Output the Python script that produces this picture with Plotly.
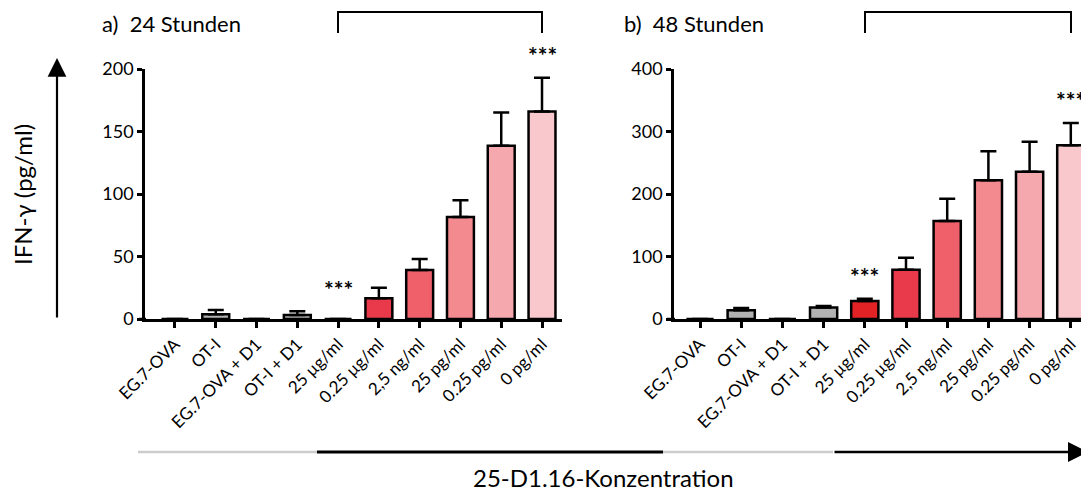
import plotly.graph_objects as go

W, H = 1089, 495
OFF = 8  # page body margin offset of the plot div

categories = ["EG.7-OVA", "OT-I", "EG.7-OVA + D1", "OT-I + D1", "25 µg/ml",
              "0.25 µg/ml", "2,5 ng/ml", "25 pg/ml", "0.25 pg/ml", "0 pg/ml"]
bar_colors = ["#b2b2b2", "#b2b2b2", "#b2b2b2", "#b2b2b2", "#e32226",
              "#e93a4b", "#ef606b", "#f38a8f", "#f5a8ae", "#f8c8cc"]

a_means = [0, 3.8, 0, 3.3, 0, 16.6, 39.3, 81.7, 138.6, 166]
a_err = [0, 3.4, 0, 3.0, 0, 8.4, 8.7, 13.3, 26.7, 27]
b_means = [0, 14.0, 0, 18.5, 29.0, 79.0, 157, 222, 235.5, 278]
b_err = [0, 3.8, 0, 2.2, 3.6, 19.0, 35.5, 46.5, 48, 35.5]

a_ticks = [0, 50, 100, 150, 200]
b_ticks = [0, 100, 200, 300, 400]
sig_idx = [4, 9]

FONT = "Lato"


def px(x):
    return (x - OFF) / W


def py(y):
    return 1 - (y - OFF) / H


fig = go.Figure()
for means, errs, xa, ya in [(a_means, a_err, "x", "y"), (b_means, b_err, "x2", "y2")]:
    fig.add_trace(go.Bar(
        x=categories, y=means, xaxis=xa, yaxis=ya, width=0.66,
        marker=dict(color=bar_colors, line=dict(color="black", width=2.5)),
        error_y=dict(type="data", array=errs, arrayminus=[0] * len(errs), symmetric=False,
                     color="black", thickness=2.5, width=8, visible=True),
        showlegend=False,
    ))

# right edge of panel b extends past window edge
b_right = 1097
b_left = 674
b_step = 41.2
b_first = 700
y_dom = [py(319), py(69)]
axis_common = dict(showline=True, linecolor="black", linewidth=2.5, ticks="outside",
                   tickcolor="black", tickwidth=2.5, showgrid=False, zeroline=False,
                   automargin=False,
                   tickfont=dict(family=FONT, size=18, color="black"))
xcommon = dict(axis_common, type="category", tickangle=-45, ticklen=6,
               tickfont=dict(family=FONT, size=17, color="black"))
fig.update_layout(
    width=W, height=H, margin=dict(l=0, r=0, t=0, b=0, autoexpand=False),
    plot_bgcolor="white", paper_bgcolor="white", bargap=0.34,
    xaxis=dict(xcommon, domain=[px(145), px(562.4)], range=[-0.735, 9.5], anchor="y"),
    yaxis=dict(axis_common, domain=y_dom, range=[0, 200], tickvals=a_ticks, ticklen=5, anchor="x"),
    xaxis2=dict(xcommon, domain=[px(b_left), px(b_right)],
                range=[-0.5 - (b_first - 20.6 - b_left) / b_step,
                       -0.5 + (b_right - b_first + 20.6) / b_step], anchor="y2"),
    yaxis2=dict(axis_common, domain=y_dom, range=[0, 400], tickvals=b_ticks, ticklen=5, anchor="x2"),
)

annotations = []
# significance stars
for means, errs, xa, ya in [(a_means, a_err, "x", "y"), (b_means, b_err, "x2", "y2")]:
    for i in sig_idx:
        top = means[i] + errs[i]
        shift = 30 if top == 0 else 23
        annotations.append(dict(x=categories[i], y=top, xref=xa, yref=ya, text="<b>***</b>",
                                showarrow=False, yanchor="middle", yshift=shift,
                                font=dict(family=FONT, size=23, color="black")))

# titles
annotations.append(dict(x=px(100), y=py(24), xref="paper", yref="paper", xanchor="left",
                        yanchor="middle", text="a)\u00a0\u00a024 Stunden", showarrow=False,
                        font=dict(family=FONT, size=22, color="black")))
annotations.append(dict(x=px(622), y=py(24), xref="paper", yref="paper", xanchor="left",
                        yanchor="middle", text="b)\u00a0\u00a048 Stunden", showarrow=False,
                        font=dict(family=FONT, size=22, color="black")))
# y-axis title
annotations.append(dict(x=px(22), y=py(195), xref="paper", yref="paper", text="IFN-γ (pg/ml)",
                        textangle=-90, showarrow=False, xanchor="center", yanchor="middle",
                        font=dict(family=FONT, size=24, color="black")))
# x title
annotations.append(dict(x=px(603), y=py(477), xref="paper", yref="paper",
                        text="25-D1.16-Konzentration", showarrow=False,
                        xanchor="center", yanchor="middle",
                        font=dict(family=FONT, size=24, color="black")))
# vertical arrow
annotations.append(dict(x=px(57), y=py(58), xref="paper", yref="paper", ax=0, ay=261,
                        axref="pixel", ayref="pixel", text="", showarrow=True,
                        arrowhead=2, arrowsize=1.7, arrowwidth=2.2, arrowcolor="black"))
# horizontal arrow (last segment)
annotations.append(dict(x=px(1088), y=py(452), xref="paper", yref="paper", ax=-255, ay=0,
                        axref="pixel", ayref="pixel", text="", showarrow=True,
                        arrowhead=2, arrowsize=1.6, arrowwidth=2.5, arrowcolor="black"))
fig.update_layout(annotations=annotations)

shapes = []
# bottom line segments
for x0, x1, col, lw in [(138, 317, "#cccccc", 2.5), (317, 663, "black", 3), (663, 833, "#cccccc", 2.5)]:
    shapes.append(dict(type="line", xref="paper", yref="paper", x0=px(x0), x1=px(x1),
                       y0=py(452), y1=py(452), line=dict(color=col, width=lw)))
# short x-axis extension left of y-axis (Prism style)
for x0, x1 in [(139, 146), (667, 675)]:
    shapes.append(dict(type="line", xref="paper", yref="paper", x0=px(x0), x1=px(x1),
                       y0=py(319), y1=py(319), line=dict(color="black", width=2.5)))
# brackets
for x0, x1 in [(338, 542), (865, 1071)]:
    shapes.append(dict(type="path", xref="paper", yref="paper",
                       path=f"M {px(x0)},{py(33)} L {px(x0)},{py(12)} L {px(x1)},{py(12)} L {px(x1)},{py(33)}",
                       line=dict(color="black", width=2)))
fig.update_layout(shapes=shapes)

fig.write_html("out.html")
